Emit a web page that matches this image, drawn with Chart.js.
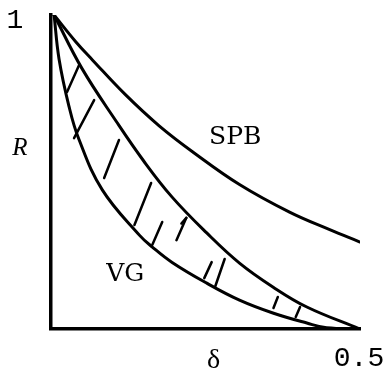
<!DOCTYPE html>
<html>
<head>
<meta charset="utf-8">
<script src="https://cdn.jsdelivr.net/npm/chart.js@4"></script>
<style>
body{margin:0;background:#fff;}
</style>
</head>
<body>
<canvas id="c" width="386" height="374"></canvas>
<script>

// curve readings (delta, R)
const spbX = [0.005, 0.04, 0.067, 0.12, 0.175, 0.23, 0.305, 0.386, 0.45, 0.5];
const spbY = [1, 0.915, 0.857, 0.747, 0.647, 0.563, 0.46, 0.372, 0.317, 0.277];

const midX = [0.005, 0.05, 0.106, 0.15, 0.196, 0.252, 0.305, 0.359, 0.414, 0.5];
const midY = [1, 0.83, 0.66, 0.535, 0.42, 0.306, 0.21, 0.134, 0.07, 0];

const vgX = [0.005, 0.013, 0.029, 0.045, 0.083, 0.143, 0.164, 0.196, 0.252, 0.305, 0.359, 0.414, 0.446, 0.5];
const vgY = [1, 0.86, 0.71, 0.605, 0.443, 0.299, 0.261, 0.212, 0.146, 0.092, 0.051, 0.019, 0.004, 0];

// hatch strokes between the two lower curves: [x1, y1, x2, y2]
const hatches = [
  [0.0455, 0.841, 0.026, 0.755],
  [0.0698, 0.729, 0.0373, 0.608],
  [0.110, 0.602, 0.086, 0.481],
  [0.162, 0.465, 0.135, 0.331],
  [0.180, 0.341, 0.164, 0.268],
  [0.219, 0.354, 0.203, 0.283],
  [0.219, 0.354, 0.211, 0.336],
  [0.260, 0.213, 0.248, 0.162],
  [0.281, 0.223, 0.266, 0.137],
  [0.367, 0.102, 0.360, 0.067],
  [0.403, 0.070, 0.396, 0.038]
];

const labels = [
  {text: "SPB", x: 0.298, y: 0.61},
  {text: "VG", x: 0.12, y: 0.175}
];

const pts = (xs, ys) => xs.map((x, i) => ({x: x, y: ys[i]}));

const datasets = [
  {data: pts(spbX, spbY), borderWidth: 3, tension: 0.4},
  {data: pts(midX, midY), borderWidth: 3, tension: 0.4},
  {data: pts(vgX, vgY), borderWidth: 3, tension: 0.4}
];

hatches.forEach(h => {
  datasets.push({data: [{x: h[0], y: h[1]}, {x: h[2], y: h[3]}], borderWidth: 2.5});
});

datasets.forEach(d => {
  d.borderColor = "#000";
  d.pointRadius = 0;
  d.showLine = true;
  d.fill = false;
  d.borderCapStyle = "round";
});

const textPlugin = {
  id: "texts",
  afterDraw(chart) {
    const ctx = chart.ctx;
    const xs = chart.scales.x, ys = chart.scales.y;
    ctx.save();
    ctx.fillStyle = "#000";
    ctx.textAlign = "center";
    ctx.textBaseline = "middle";

    ctx.font = "25px 'DejaVu Serif'";
    labels.forEach(l => {
      ctx.fillText(l.text, xs.getPixelForValue(l.x), ys.getPixelForValue(l.y));
    });

    ctx.font = "28px 'Liberation Mono'";
    ctx.fillText("1", 15, ys.getPixelForValue(1) + 6);
    ctx.fillText("0.5", xs.getPixelForValue(0.5) - 1, ys.getPixelForValue(0) + 30);

    ctx.font = "italic 25px 'Liberation Serif'";
    ctx.fillText("R", 20, ys.getPixelForValue(0.575));

    ctx.font = "28px 'Liberation Serif'";
    ctx.fillText("δ", xs.getPixelForValue(0.263), ys.getPixelForValue(0) + 32);
    ctx.restore();
  }
};

new Chart(document.getElementById("c"), {
  type: "scatter",
  data: {datasets: datasets},
  options: {
    responsive: false,
    animation: false,
    layout: {padding: {left: 51, top: 15, right: 26, bottom: 45}},
    plugins: {legend: {display: false}, tooltip: {enabled: false}},
    scales: {
      x: {
        type: "linear", min: 0, max: 0.5,
        ticks: {display: false},
        grid: {display: false, drawTicks: false},
        border: {display: true, color: "#000", width: 3.5}
      },
      y: {
        type: "linear", min: 0, max: 1,
        ticks: {display: false},
        grid: {display: false, drawTicks: false},
        border: {display: true, color: "#000", width: 3.5}
      }
    }
  },
  plugins: [textPlugin]
});

</script>
</body>
</html>
